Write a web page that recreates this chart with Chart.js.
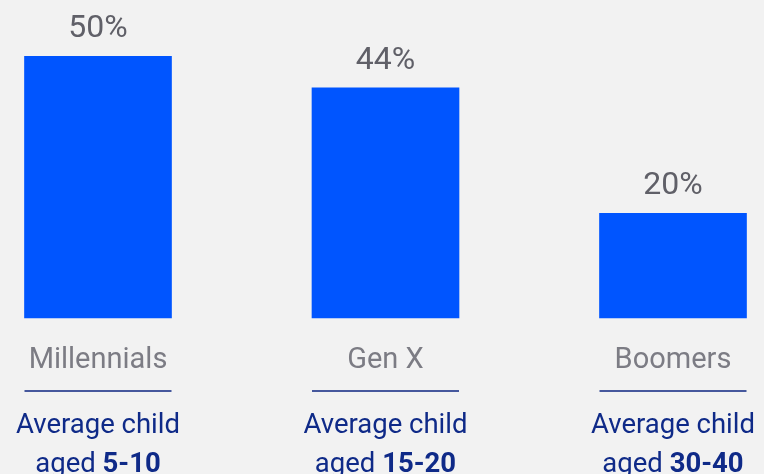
<!DOCTYPE html>
<html>
<head>
<meta charset="utf-8">
<script src="https://cdn.jsdelivr.net/npm/chart.js@4"></script>
<style>
  body { margin: 0; background: #f2f2f2; }
  #wrap { width: 764px; height: 474px; position: relative; }
</style>
</head>
<body>
<div id="wrap"><canvas id="myChart"></canvas></div>
<script>
// chart data
const categories = ["Millennials", "Gen X", "Boomers"];
const shares = [50, 44, 20];
const ageRanges = ["5-10", "15-20", "30-40"];

const FONT = "Roboto, 'Liberation Sans', sans-serif";

// draws value labels, category names, rule and age caption
const labelPlugin = {
  id: "labels",
  afterDatasetsDraw(chart) {
    const c = chart.ctx;
    const meta = chart.getDatasetMeta(0);
    const bottom = chart.chartArea.bottom;
    c.save();
    c.textAlign = "center";
    c.textBaseline = "alphabetic";
    meta.data.forEach(function (bar, i) {
      const x = bar.x;
      const half = bar.width / 2;

      // value above bar
      c.font = "400 32px " + FONT;
      c.fillStyle = "#606068";
      c.fillText(shares[i] + "%", x, bar.y - 19);

      // category name
      c.font = "400 29px " + FONT;
      c.fillStyle = "#7c7c84";
      c.fillText(categories[i], x, bottom + 50);

      // rule
      c.strokeStyle = "#0c2580";
      c.lineWidth = 1.5;
      c.beginPath();
      c.moveTo(x - half, bottom + 73);
      c.lineTo(x + half, bottom + 73);
      c.stroke();

      // caption
      const cap = "400 27.5px " + FONT;
      const capBold = "700 27.5px " + FONT;
      c.fillStyle = "#0f2a88";
      c.font = cap;
      c.fillText("Average child", x, bottom + 115);

      c.textAlign = "left";
      const pre = "aged ";
      const w1 = c.measureText(pre).width;
      c.font = capBold;
      const w2 = c.measureText(ageRanges[i]).width;
      let sx = x - (w1 + w2) / 2;
      c.font = cap;
      c.fillText(pre, sx, bottom + 154);
      c.font = capBold;
      c.fillText(ageRanges[i], sx + w1, bottom + 154);
      c.textAlign = "center";
    });
    c.restore();
  },
};

const ctx = document.getElementById("myChart");
const myChart = new Chart(ctx, {
  type: "bar",
  data: {
    labels: categories,
    datasets: [
      {
        data: shares,
        backgroundColor: "#0055ff",
        borderWidth: 0,
        barThickness: 147,
        clip: false,
      },
    ],
  },
  options: {
    responsive: true,
    maintainAspectRatio: false,
    animation: false,
    layout: { padding: { left: 98, right: 91, top: 4, bottom: 156 } },
    plugins: { legend: { display: false }, tooltip: { enabled: false } },
    scales: {
      x: { display: false, offset: false },
      y: { display: false, min: 0, max: 60 },
    },
  },
  plugins: [labelPlugin],
});
</script>
</body>
</html>
